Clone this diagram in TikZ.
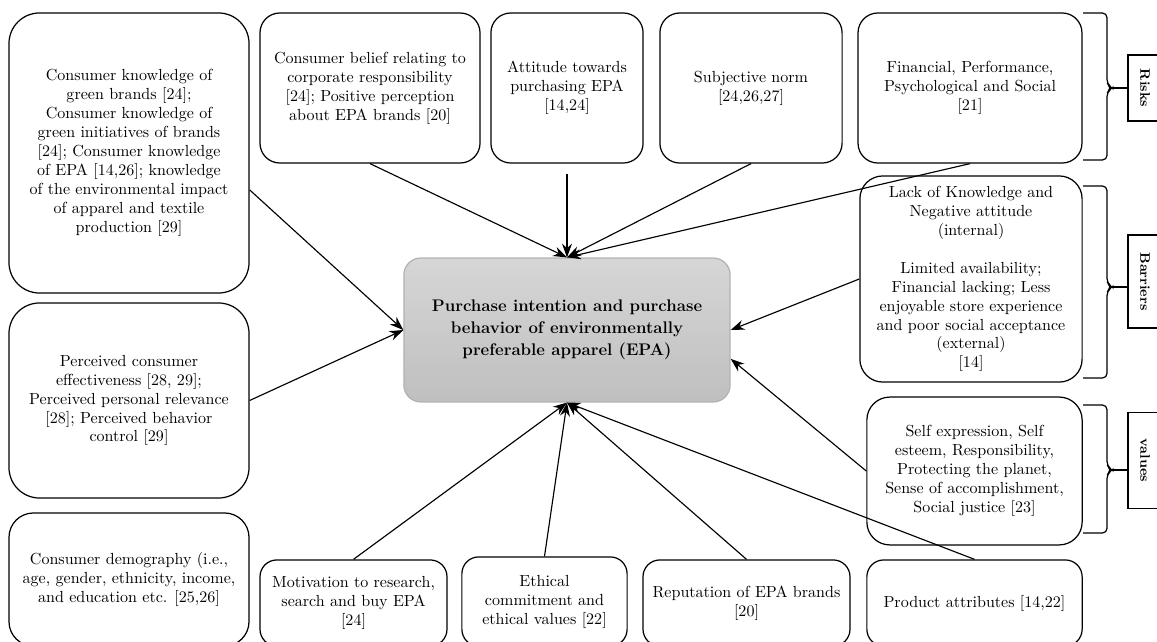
\documentclass[tikz,border=0pt]{standalone}
\usepackage{tikz}
\usetikzlibrary{arrows.meta,calc}
\tikzset{rbox/.style={draw, rounded corners=13, align=center, inner sep=2pt, line width=0.8pt, font=\fontsize{10.5}{12.4}\selectfont}}
\tikzset{arr/.style={draw, -{Stealth[length=9pt, width=6.5pt]}, line width=0.75pt}}
\tikzset{tag/.style={draw, line width=0.8pt, rotate=-90, inner sep=2pt, minimum height=0.78cm, font=\fontsize{9}{11}\selectfont\bfseries}}
\tikzset{brk/.style={draw, line width=0.8pt, rounded corners=3pt}}

\begin{document}
\begin{tikzpicture}[x=0.023cm, y=-0.023cm]
		\useasboundingbox (0,0) rectangle (1157,642);
		
		\node[rbox, rounded corners=20, minimum width=5.52cm, minimum height=6.44cm] (K) at (129,153) {Consumer knowledge of\\ green brands [24];\\ Consumer knowledge of\\ green initiatives of brands\\ {[24]}; Consumer knowledge\\ of EPA [14,26]; knowledge\\ of the environmental impact\\ of apparel and textile\\ production [29]};
		\node[rbox, rounded corners=20, minimum width=5.52cm, minimum height=4.485cm] (PC) at (129,400.5) {Perceived consumer\\ effectiveness [28, 29];\\ Perceived personal relevance\\ {[28]}; Perceived behavior\\ control [29]};
		\node[rbox, rounded corners=16, minimum width=5.52cm, minimum height=3.06cm] (DM) at (129,579.5) {Consumer demography (i.e.,\\ age, gender, ethnicity, income,\\ and education etc. [25,26]};
		
		\node[rbox, minimum width=5.06cm, minimum height=3.45cm] (CB) at (370,88) {Consumer belief relating to\\ corporate responsibility\\ {[24]}; Positive perception\\ about EPA brands [20]};
		\node[rbox, minimum width=3.5cm, minimum height=3.45cm] (AT) at (567,88) {Attitude towards\\ purchasing EPA\\ {[14,24]}};
		\node[rbox, minimum width=4.19cm, minimum height=3.45cm] (SN) at (751,88) {Subjective norm\\ {[24,26,27]}};
		\node[rbox, minimum width=5.15cm, minimum height=3.45cm] (FI) at (970,88) {Financial, Performance,\\ Psychological and Social\\ {[21]}};
		
		\node[rbox, rounded corners=15, minimum width=5.11cm, minimum height=4.74cm] (BA) at (971,279) {Lack of Knowledge and\\ Negative attitude\\ (internal)\\[12.4pt] Limited availability;\\ Financial lacking; Less\\ enjoyable store experience\\ and poor social acceptance\\ (external)\\ {[14]}};
		\node[rbox, rounded corners=15, minimum width=4.95cm, minimum height=3.4cm] (VA) at (974.5,471) {Self expression, Self\\ esteem, Responsibility,\\ Protecting the planet,\\ Sense of accomplishment,\\ Social justice [23]};
		
		\node[rbox, rounded corners=11, minimum width=4.3cm, minimum height=1.98cm] (MO) at (353.5,603) {Motivation to research,\\ search and buy EPA\\ {[24]}};
		\node[rbox, rounded corners=11, minimum width=3.8cm, minimum height=2.05cm] (EC) at (544.5,601.5) {Ethical\\ commitment and\\ ethical values [22]};
		\node[rbox, rounded corners=11, minimum width=4.76cm, minimum height=1.98cm] (RP) at (746.5,603) {Reputation of EPA brands\\ {[20]}};
		\node[rbox, rounded corners=11, minimum width=4.95cm, minimum height=1.98cm] (PA) at (974.5,603) {Product attributes [14,22]};
		
		\node[rbox, rounded corners=11, draw=black!30, top color=black!16, bottom color=black!25, minimum width=7.5cm, minimum height=3.31cm, font=\fontsize{11}{14.5}\selectfont\bfseries] (E) at (567,330) {Purchase intention and purchase\\ behavior of environmentally\\ preferable apparel (EPA)};
		
		\draw[arr] (K.-17) -- (E.west);
		\draw[arr] (PC.east) -- (E.west);
		\draw[arr] (CB.south) -- (E.north);
		\draw[arr, shorten <=7pt] (AT.south) -- (E.north);
		\draw[arr] (SN.south) -- (E.north);
		\draw[arr] (FI.south) -- (E.north);
		\draw[arr] (BA.west) -- (E.east);
		\draw[arr] (VA.west) -- (E.-10);
		\draw[arr] (MO.north) -- (E.south);
		\draw[arr] (EC.north) -- (E.south);
		\draw[arr] (RP.north) -- (E.south);
		\draw[arr] (PA.north) -- (E.south);
		
		\node[tag, minimum width=1.52cm] (RK) at (1145,88) {Risks};
		\node[tag, minimum width=2.14cm] (BR) at (1145,281.5) {Barriers};
		\node[tag, minimum width=2.19cm] (VL) at (1145,460.5) {values};
		
		\coordinate (rkt) at (1112,88);
		\coordinate (brt) at (1112,287);
		\coordinate (vlt) at (1112,470);
		\draw[brk] (1083,13) -- (1107,13) -- (1107,84) -- (rkt) -- (1107,92) -- (1107,160) -- (1083,160);
		\draw[brk] (1083,186) -- (1107,186) -- (1107,283) -- (brt) -- (1107,291) -- (1107,378) -- (1083,378);
		\draw[brk] (1083,405) -- (1107,405) -- (1107,466) -- (vlt) -- (1107,474) -- (1107,533) -- (1083,533);
		\draw[brk] (rkt) -- (rkt -| RK.south);
		\draw[brk] (brt) -- (brt -| BR.south);
		\draw[brk] (vlt) -- (vlt -| VL.south);
	\end{tikzpicture}
\end{document}
